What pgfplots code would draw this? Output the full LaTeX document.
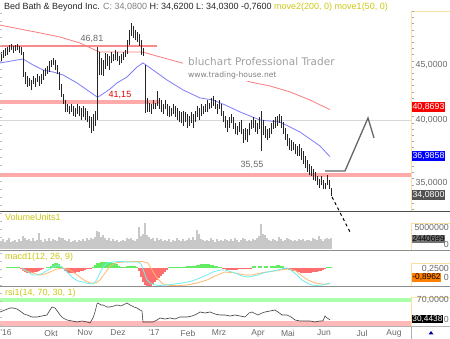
\documentclass[border=0pt]{standalone}
\usepackage{fontspec}
\setmainfont{Liberation Sans}
\newfontfamily\wmfont{DejaVu Sans}
\usepackage{pgfplots}
\usepackage{pgfplotstable}
\pgfplotsset{compat=1.18}
\newcommand{\fs}[1]{\fontsize{#1}{#1}\selectfont}
\definecolor{ma200}{RGB}{250,125,125}
\definecolor{ma50}{RGB}{125,125,250}
\definecolor{band}{RGB}{255,170,170}
\definecolor{lbl}{RGB}{205,200,20}
\definecolor{axyel}{RGB}{245,225,160}
\definecolor{txtgray}{RGB}{105,105,105}
\definecolor{vol}{RGB}{200,200,200}
\definecolor{histr}{RGB}{255,110,110}
\definecolor{histg}{RGB}{100,235,100}
\definecolor{macdc}{RGB}{110,238,238}
\definecolor{macdo}{RGB}{255,185,110}
\definecolor{rsig}{RGB}{170,255,170}
\definecolor{rsir}{RGB}{255,185,185}
\definecolor{wm}{RGB}{160,160,160}

\pgfplotstableread{
x lo hi
1 45.3 46.2
3 45.6 46.4
5 45.8 46.6
7 45.9 46.7
9 46.2 46.9
11 46.4 47.0
13 46.1 46.8
15 46.3 46.9
17 46.4 47.0
19 46.1 46.8
21 45.9 46.7
23 43.8 46.2
25 43.2 44.3
27 42.9 43.9
29 43.0 43.7
31 42.6 43.5
33 43.2 43.9
35 42.9 43.7
37 43.4 44.1
39 43.0 43.9
41 43.2 44.1
43 43.5 44.5
45 43.9 44.7
47 44.1 44.9
49 44.3 45.3
51 44.8 45.4
53 45.0 45.6
55 44.5 45.4
57 44.1 45.0
59 42.6 44.3
61 42.0 43.2
63 41.4 42.3
65 40.7 41.7
67 40.7 41.4
69 40.5 41.2
71 40.7 41.4
73 40.3 41.2
75 40.2 41.0
77 40.5 41.4
79 40.3 41.2
81 40.0 41.0
83 40.2 41.2
85 40.0 41.0
87 39.8 40.8
89 39.3 40.3
91 38.9 40.2
93 39.1 40.5
95 39.5 40.8
97 40.0 46.7
99 44.0 46.2
101 44.0 45.6
103 43.9 45.4
105 44.6 46.1
107 44.9 46.0
109 44.5 45.8
111 45.1 46.2
113 45.3 46.0
115 45.4 46.4
117 45.3 46.2
119 45.0 45.8
121 45.1 46.0
123 45.4 46.2
125 45.7 46.4
127 46.0 47.4
129 46.9 48.4
131 47.8 49.2
133 47.6 48.8
135 47.4 48.4
137 47.2 48.2
139 46.8 48.0
141 45.9 47.4
143 45.8 46.6
145 40.6 45.0
147 40.7 41.9
149 40.7 41.5
151 40.5 41.4
153 40.9 41.7
155 40.9 41.5
157 41.2 42.5
159 40.9 41.9
161 40.7 41.7
163 40.5 41.4
165 40.9 41.7
167 40.3 41.4
169 40.2 41.2
171 40.3 41.0
173 40.5 41.4
175 40.2 41.2
177 40.0 41.0
179 39.8 40.8
181 39.7 40.7
183 39.5 40.8
185 39.8 40.7
187 39.3 40.5
189 39.5 40.3
191 39.7 40.7
193 39.3 40.5
195 39.8 40.8
197 40.2 41.2
199 40.0 41.0
201 40.3 41.4
203 40.5 41.2
205 40.7 41.4
207 40.7 41.7
209 40.9 41.5
211 41.0 41.9
213 41.2 42.1
215 40.9 41.7
217 40.5 41.4
219 40.9 41.7
221 40.3 41.4
223 39.8 40.8
225 39.3 40.3
227 39.0 40.0
229 39.3 40.2
231 39.7 40.5
233 39.2 40.2
235 38.8 39.7
237 38.7 39.5
239 39.0 39.8
241 38.8 40.0
243 38.1 39.2
245 38.3 39.3
247 38.2 39.2
249 38.7 39.7
251 39.2 40.0
253 39.3 40.2
255 39.0 40.0
257 38.8 39.7
259 39.2 40.2
261 37.4 40.8
263 38.7 40.0
265 38.5 39.5
267 38.3 39.2
269 38.5 39.3
271 38.8 39.7
273 39.2 40.0
275 39.3 40.2
277 39.5 40.3
279 39.7 40.5
281 39.3 40.3
283 38.8 39.8
285 38.3 39.3
287 37.8 38.8
289 37.5 38.5
291 37.4 38.3
293 37.5 38.2
295 37.2 38.0
297 37.0 37.8
299 37.0 38.0
301 36.7 37.7
303 36.4 37.4
305 36.1 37.0
307 35.8 36.7
309 35.6 36.4
311 35.5 36.3
313 35.2 36.0
315 35.1 35.8
317 34.8 35.5
319 34.6 35.3
321 34.8 35.5
323 34.5 35.2
325 34.5 35.0
327 34.8 35.6
329 34.5 35.2
331 34.03 34.62
}\ohlc

\pgfplotstableread{
x v
1 1.8
3 2.2
5 1.6
7 2.0
9 2.4
11 1.7
13 1.9
15 2.1
17 1.6
19 2.3
21 1.8
23 3.0
25 2.6
27 2.0
29 2.2
31 1.8
33 2.4
35 1.9
37 2.0
39 3.6
41 2.1
43 1.7
45 2.2
47 1.8
49 2.5
51 1.9
53 2.3
55 2.0
57 1.8
59 2.8
61 2.4
63 2.6
65 2.0
67 1.8
69 2.2
71 1.7
73 1.9
75 2.1
77 1.6
79 2.0
81 1.8
83 2.2
85 1.9
87 2.4
89 2.0
91 2.6
93 2.2
95 2.8
97 4.2
99 3.8
101 2.8
103 3.2
105 2.4
107 2.0
109 2.6
111 1.9
113 2.2
115 1.8
117 2.0
119 1.7
121 1.9
123 2.1
125 1.8
127 2.4
129 2.2
131 2.6
133 2.0
135 1.9
137 2.3
139 5.0
141 3.0
143 3.4
145 5.9
147 3.2
149 2.8
151 2.2
153 2.4
155 1.9
157 2.6
159 2.0
161 2.3
163 1.8
165 2.1
167 1.9
169 2.2
171 1.7
173 2.0
175 1.8
177 2.4
179 2.0
181 1.9
183 2.2
185 1.8
187 2.0
189 2.6
191 2.1
193 2.8
195 2.0
197 4.3
199 3.4
201 2.2
203 2.0
205 1.8
207 2.1
209 1.9
211 2.4
213 2.0
215 1.7
217 2.2
219 1.9
221 2.1
223 1.8
225 2.3
227 2.0
229 1.8
231 2.2
233 1.9
235 2.4
237 2.0
239 1.7
241 2.1
243 2.6
245 2.2
247 1.9
249 2.0
251 1.8
253 2.2
255 2.0
257 2.4
259 3.0
261 5.6
263 3.4
265 3.2
267 2.4
269 2.0
271 1.8
273 2.2
275 2.0
277 1.9
279 2.8
281 2.2
283 1.8
285 2.0
287 2.4
289 2.2
291 2.0
293 1.8
295 2.1
297 1.9
299 2.3
301 2.0
303 2.2
305 1.9
307 2.1
309 2.0
311 1.8
313 2.4
315 2.2
317 2.0
319 3.0
321 2.2
323 1.9
325 2.3
327 2.5
329 2.2
331 2.44
}\volume

\pgfplotstableread{
x h
7 0.05
9 0.05
11 0.05
13 0.05
15 0.05
17 0.05
19 0.05
21 -0.1
23 -0.3
25 -0.45
27 -0.5
29 -0.53
31 -0.53
33 -0.5
35 -0.45
37 -0.4
39 -0.3
41 -0.2
43 -0.1
45 0
47 0.05
49 0.1
51 0.2
53 0.35
55 0.45
57 0.47
59 0.4
61 0.2
63 -0.1
65 -0.3
67 -0.45
69 -0.53
71 -0.55
73 -0.53
75 -0.5
77 -0.45
79 -0.4
81 -0.35
83 -0.3
85 -0.2
87 -0.1
89 -0.05
91 -0.05
93 0.05
95 0.3
97 0.45
99 0.5
101 0.55
103 0.57
105 0.57
107 0.57
109 0.57
111 0.55
113 0.5
115 0.45
117 0.35
119 0.2
121 0.05
123 0.05
125 0.1
127 0.15
129 0.17
131 0.17
133 0.15
135 0.12
137 0.08
139 -0.3
141 -0.9
143 -1.4
145 -1.7
147 -1.85
149 -1.9
151 -1.8
153 -1.6
155 -1.4
157 -1.2
159 -1.0
161 -0.8
163 -0.6
165 -0.4
167 -0.2
169 0.02
171 0.08
173 0.1
175 0.1
177 0.1
179 0.1
181 0.1
183 0.1
185 0.1
187 0.12
189 0.12
191 0.15
193 0.15
195 0.2
197 0.25
199 0.3
201 0.35
203 0.37
205 0.37
207 0.37
209 0.35
211 0.3
213 0.25
215 0.2
217 0.15
219 0.1
221 0.05
223 -0.1
225 -0.15
227 -0.2
229 -0.2
231 -0.23
233 -0.23
235 -0.2
237 -0.2
239 -0.18
241 -0.15
243 -0.15
245 -0.12
247 -0.1
249 -0.05
251 -0.02
253 0.12
255 0.15
257 0
259 0.15
261 0.15
263 0
265 0.15
267 0.15
269 0
271 0.12
273 0.15
275 0.2
277 0.25
279 0.25
281 0.2
283 0.15
285 -0.05
287 -0.1
289 -0.2
291 -0.25
293 -0.3
295 -0.35
297 -0.4
299 -0.45
301 -0.5
303 -0.5
305 -0.53
307 -0.53
309 -0.5
311 -0.5
313 -0.48
315 -0.45
317 -0.4
319 -0.35
321 -0.3
323 -0.2
325 -0.1
327 0.08
329 0.1
331 0.1
}\hist

\begin{document}
\begin{tikzpicture}
\path[use as bounding box, fill=white] (0pt,0pt) rectangle (450pt,339pt);

% ---------------- price panel
\begin{axis}[at={(0pt,128pt)}, anchor=south west, scale only axis,
  width=411pt, height=200pt, xmin=0, xmax=411,
  ymode=log, ymin=32.95, ymax=50.43,
  axis x line=none, axis y line=right,
  y axis line style={draw=axyel, line width=0.8pt, -},
  ytick={35,40,45}, yticklabels={{35,0000},{40,0000},{45,0000}},
  major tick length=0pt, minor tick length=0pt,
  yticklabel style={anchor=east, xshift=40pt, text=txtgray, font=\fs{8.8}},
  clip=false]
\addplot[band, line width=4pt] coordinates {(0,35.6) (411,35.6)};
\addplot[band, line width=4pt] coordinates {(0,41.57) (160,41.57)};
\addplot[ma200!90!white, line width=1.3pt] coordinates {(0,46.81) (157,46.81)};
\addplot[black!16, line width=0.6pt] coordinates {(0,40) (411,40)};
\addplot[ma200, line width=0.8pt] coordinates {
(0,48.94) (20,48.53) (40,48.13) (60,47.71) (80,47.11) (95,46.41) (100,46.22)
(120,46.22) (140,46.22) (146,46.12) (160,45.73) (182,45.15) (200,44.67)
(225,44.10) (250,43.36) (270,42.99) (290,42.45) (310,41.73) (330,40.87)};
\addplot[ma50, line width=0.8pt] coordinates {
(0,45.15) (23,45.53) (33,44.96) (43,44.48) (53,44.29) (63,44.01) (77,43.27)
(87,42.63) (97,42.00) (100,42.09) (110,42.72) (117,43.27) (127,43.82)
(137,44.76) (143,45.15) (153,44.48) (167,43.54) (183,42.63) (200,41.91)
(213,41.73) (225,41.29) (240,40.68) (260,39.99) (280,39.82) (300,38.98)
(320,37.84) (330,36.99)};
\addplot[draw=none, mark=none,
  error bars/.cd, y dir=plus, y explicit, error mark=none,
  error bar style={draw=black!85, line width=0.75pt}]
  table[x=x, y=lo, y error plus expr=\thisrow{hi}-\thisrow{lo}] {\ohlc};
\addplot[black!60, line width=1.3pt] coordinates {(325,35.88) (345,35.88) (368,40.16) (374,38.49)};
\addplot[black, line width=1pt, dash pattern=on 3pt off 3pt] coordinates {(332,33.95) (350,31.51)};
\node[text=txtgray, font=\fs{9}] at (axis cs:92,47.51) {46,81};
\node[text=red!90!black, font=\fs{9}] at (axis cs:120,42.18) {41,15};
\node[text=txtgray, font=\fs{9}] at (axis cs:252,36.34) {35,55};
\end{axis}

% ---------------- volume panel
\begin{axis}[at={(0pt,89pt)}, anchor=south west, scale only axis,
  width=411pt, height=39pt, xmin=0, xmax=411, ymin=-0.227, ymax=8.636, hide axis]
\addplot[ycomb, vol, line width=1.1pt] table[x=x, y=v] {\volume};
\end{axis}

% ---------------- MACD panel
\begin{axis}[at={(0pt,53pt)}, anchor=south west, scale only axis,
  width=411pt, height=36pt, xmin=0, xmax=411, ymin=-1.83, ymax=1.77, hide axis]
\addplot[ycomb, histr, line width=2.05pt, restrict y to domain=-5:0] table[x=x, y=h] {\hist};
\addplot[ycomb, histg, line width=2.05pt, restrict y to domain=0:5] table[x=x, y=h] {\hist};
\addplot[macdo, line width=0.8pt] coordinates {
(22,-0.23) (30,-0.43) (36,-0.63) (40,-0.73) (45,-0.63) (50,-0.43) (57,-0.13)
(63,-0.03) (70,-0.23) (77,-0.73) (84,-1.23) (90,-1.53) (96,-1.53) (100,-1.23)
(105,-0.53) (110,0.17) (117,0.52) (125,0.57) (135,0.62) (142,0.62) (148,0.47)
(152,-0.23) (157,-1.03) (163,-1.63) (170,-1.78) (178,-1.8) (187,-1.73)
(197,-1.53) (207,-1.23) (215,-0.83) (225,-0.43) (235,-0.53) (245,-0.73)
(252,-0.73) (258,-0.58) (266,-0.43) (275,-0.33) (283,-0.18) (290,-0.13)
(296,-0.33) (302,-0.83) (308,-1.23) (315,-1.53) (322,-1.63) (328,-1.63) (330,-1.58)};
\addplot[macdc, line width=0.8pt] coordinates {
(22,-0.03) (28,-0.43) (33,-0.73) (38,-0.73) (43,-0.53) (48,-0.23) (53,0.07)
(58,0.27) (63,-0.03) (67,-0.43) (73,-1.03) (78,-1.33) (83,-1.43) (88,-1.58)
(93,-1.63) (96,-1.33) (100,-0.53) (103,0.07) (107,0.47) (113,0.57) (120,0.62)
(130,0.57) (138,0.57) (141,0.37) (144,-0.43) (147,-1.23) (150,-1.53)
(155,-1.73) (160,-1.78) (167,-1.73) (175,-1.63) (183,-1.53) (192,-1.33)
(200,-1.03) (207,-0.73) (213,-0.43) (220,-0.23) (225,-0.23) (235,-0.53)
(242,-0.83) (248,-0.93) (253,-0.83) (258,-0.73) (263,-0.53) (268,-0.43)
(273,-0.33) (278,-0.23) (283,-0.08) (287,-0.03) (292,-0.33) (297,-0.73)
(302,-1.23) (307,-1.53) (312,-1.73) (317,-1.78) (322,-1.73) (327,-1.63) (330,-1.53)};
\end{axis}

% ---------------- RSI panel
\begin{axis}[at={(0pt,13pt)}, anchor=south west, scale only axis,
  width=411pt, height=40pt, xmin=0, xmax=411, ymin=18, ymax=98,
  axis y line=none, axis x line*=bottom, x axis line style={draw=none},
  xtick={6,51,85,118,154,188,219,258,288,324,362,394},
  xticklabels={'16,Okt,Nov,Dez,'17,Feb,Mrz,Apr,Mai,Jun,Jul,Aug},
  major tick length=0pt,
  xticklabel style={anchor=center, yshift=-7pt, text=txtgray, font=\fs{8.5}}]
\addplot[rsig, line width=4pt] coordinates {(0,70) (411,70)};
\addplot[rsir, line width=5pt] coordinates {(0,23) (411,23)};
\addplot[black!75, line width=0.6pt] coordinates {
(0,46) (5,50) (10,54) (13,54) (17,52) (20,48) (24,42) (27,40) (32,36) (37,36)
(42,38) (47,40) (50,50) (52,56) (55,54) (58,46) (60,40) (63,34) (67,30) (72,28)
(77,26) (82,28) (87,26) (90,24) (93,34) (95,46) (97,62) (98,64) (101,60) (103,60)
(107,56) (110,56) (114,58) (117,60) (121,58) (125,62) (127,64) (130,60) (134,56)
(137,54) (140,50) (142,48) (143,26) (147,26) (153,26) (157,30) (160,34) (165,32)
(170,34) (175,32) (180,36) (187,36) (192,38) (197,42) (200,46) (205,44) (210,46)
(215,42) (220,40) (225,40) (230,38) (235,40) (240,38) (245,36) (249,44) (252,46)
(256,42) (258,40) (262,44) (265,46) (270,48) (275,50) (278,46) (282,40) (287,40)
(291,36) (295,30) (300,28) (305,28) (310,28) (315,26) (320,28) (323,28) (325,38)
(327,34) (330,30.44)};
\end{axis}

% ---------------- frame decorations
\draw[black!70, line width=0.8pt] (0pt,128pt) -- (450pt,128pt);
\draw[black!45, line width=0.7pt] (0pt,89pt) -- (450pt,89pt);
\draw[black!45, line width=0.7pt] (0pt,53pt) -- (450pt,53pt);
\draw[black!30, line width=0.6pt] (0pt,13pt) -- (450pt,13pt);
\draw[black!30, line width=0.6pt] (411pt,0pt) -- (411pt,13pt);
\draw[axyel, line width=0.8pt] (411pt,328pt) -- (450pt,328pt);
\draw[axyel, line width=0.8pt] (450pt,116pt) -- (411pt,116pt) -- (411pt,89pt);
\draw[axyel, line width=0.8pt] (450pt,76pt) -- (411pt,76pt) -- (411pt,53pt);
\draw[axyel, line width=0.8pt] (450pt,42pt) -- (411pt,42pt) -- (411pt,13pt);
\draw[black!35, line width=2pt, dash pattern=on 0.6pt off 5.6pt] (412.5pt,328pt) -- (412.5pt,128pt);
\draw[black!25, line width=2pt, dash pattern=on 0.6pt off 7.4pt] (1pt,326pt) -- (1pt,13pt);
\fill[blue!60!black] (428.5pt,4.5pt) -- (433.5pt,4.5pt) -- (431pt,8pt) -- cycle;

% ---------------- right value labels
\node[anchor=east, inner sep=0pt, text=txtgray, font=\fs{8.8}] at (449pt,112pt) {5000000};
\node[anchor=east, inner sep=0pt, text=txtgray, font=\fs{8.8}] at (449pt,95pt) {0};
\node[anchor=east, inner sep=0pt, text=txtgray, font=\fs{8.8}] at (449pt,70.5pt) {0,2500};
\node[anchor=east, inner sep=0pt, text=txtgray, font=\fs{8.8}] at (449pt,61.5pt) {0};
\node[anchor=east, inner sep=0pt, text=txtgray, font=\fs{8.8}] at (449pt,39pt) {70,0000};
\node[anchor=east, inner sep=0pt, text=txtgray, font=\fs{8.8}] at (449pt,20pt) {0};
\node[anchor=west, inner sep=0.9pt, fill=red, text=white, font=\fs{8.8}] at (411.5pt,232pt) {40,8693};
\node[anchor=west, inner sep=0.9pt, fill=blue, text=white, font=\fs{8.8}] at (411.5pt,183pt) {36,9858};
\node[anchor=west, inner sep=0.9pt, fill=black!68, text=white, font=\fs{8.8}] at (411.5pt,144pt) {34,0800};
\node[anchor=west, inner sep=0.7pt, fill=black!55, text=black, font=\fs{8.3}] at (411.5pt,100pt) {2440699};
\node[anchor=west, inner sep=0.7pt, fill=orange, text=black, font=\fs{8.3}] at (411.5pt,61.5pt) {-0,8962};
\node[anchor=west, inner sep=0.7pt, fill=black, text=white, font=\fs{8.3}] at (411.5pt,20pt) {30,4438};

% ---------------- texts
\node[anchor=base west, inner sep=0pt, font=\fs{9}, text=black!85] at (4pt,329.5pt)
  {Bed Bath \& Beyond Inc. \textcolor{black!50}{C: 34,0800} H: 34,6200 L: 34,0300 -0,7600 \textcolor{lbl}{move2(200, 0) move1(50, 0)}};
\fill[white] (183pt,258pt) rectangle (343pt,284pt);
\node[anchor=west, inner sep=0pt, text=wm, font=\wmfont\fs{10.5}] at (188pt,277pt) {bluchart Professional Trader};
\node[anchor=west, inner sep=0pt, text=black!50, font=\wmfont\fs{7.6}] at (188pt,264pt) {www.trading-house.net};
\node[anchor=west, inner sep=0pt, text=lbl, font=\fs{9}] at (5pt,122pt) {VolumeUnits1};
\node[anchor=west, inner sep=0pt, text=lbl, font=\fs{9}] at (5pt,81.7pt) {macd1(12, 26, 9)};
\node[anchor=west, inner sep=0pt, text=lbl, font=\fs{9}] at (5pt,46.3pt) {rsi1(14, 70, 30, 1)};
\end{tikzpicture}
\end{document}
